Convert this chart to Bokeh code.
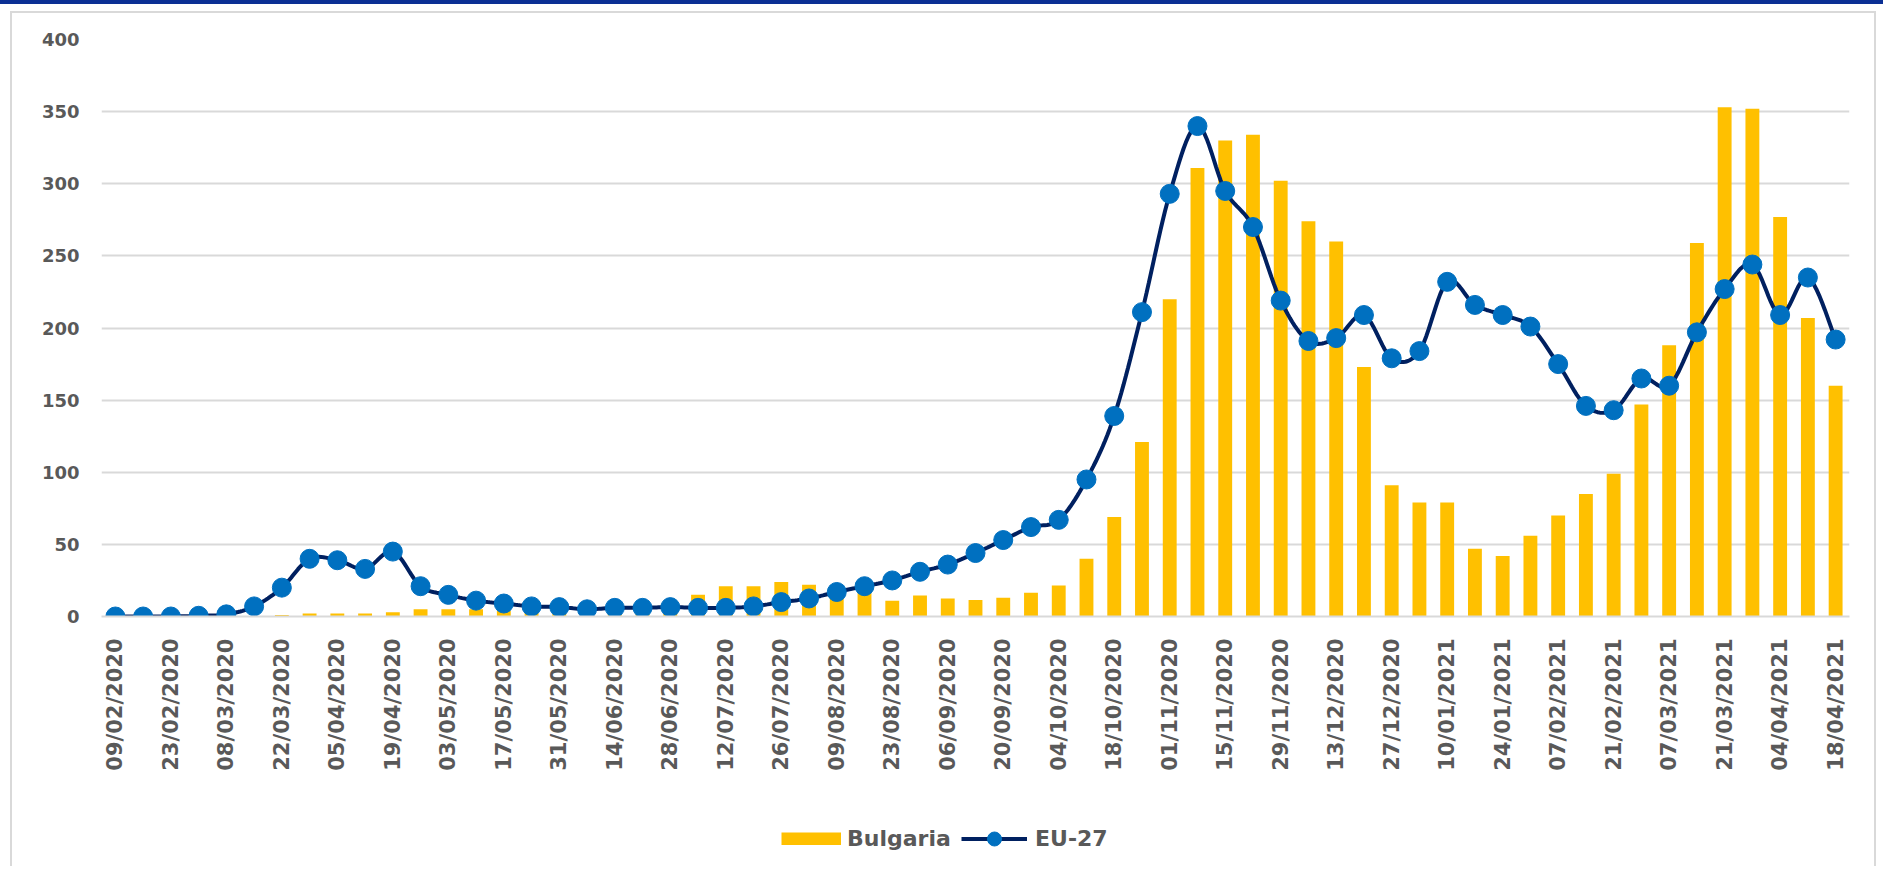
import numpy as np
from bokeh.plotting import figure
from bokeh.layouts import column
from bokeh.models import (Range1d, FixedTicker, Legend, LegendItem, Div,
                          ColumnDataSource)
from bokeh.embed import file_html
from bokeh.resources import INLINE

# ---------------- data ----------------
dates = ["09/02/2020", "16/02/2020", "23/02/2020", "01/03/2020", "08/03/2020", "15/03/2020",
         "22/03/2020", "29/03/2020", "05/04/2020", "12/04/2020", "19/04/2020", "26/04/2020",
         "03/05/2020", "10/05/2020", "17/05/2020", "24/05/2020", "31/05/2020", "07/06/2020",
         "14/06/2020", "21/06/2020", "28/06/2020", "05/07/2020", "12/07/2020", "19/07/2020",
         "26/07/2020", "02/08/2020", "09/08/2020", "16/08/2020", "23/08/2020", "30/08/2020",
         "06/09/2020", "13/09/2020", "20/09/2020", "27/09/2020", "04/10/2020", "11/10/2020",
         "18/10/2020", "25/10/2020", "01/11/2020", "08/11/2020", "15/11/2020", "22/11/2020",
         "29/11/2020", "06/12/2020", "13/12/2020", "20/12/2020", "27/12/2020", "03/01/2021",
         "10/01/2021", "17/01/2021", "24/01/2021", "31/01/2021", "07/02/2021", "14/02/2021",
         "21/02/2021", "28/02/2021", "07/03/2021", "14/03/2021", "21/03/2021", "28/03/2021",
         "04/04/2021", "11/04/2021", "18/04/2021"]

bulgaria = [0, 0, 0, 0, 0, 0,
            1, 2, 2, 2, 3, 5,
            5, 5, 4, 3, 2, 2,
            3, 4, 6, 15, 21, 21,
            24, 22, 18, 17, 11, 14.5,
            12.5, 11.5, 13, 16.5, 21.5, 40,
            69, 121, 220, 311, 330, 334,
            302, 274, 260, 173, 91, 79,
            79, 47, 42, 56, 70, 85,
            99, 147, 188, 259, 353, 352,
            277, 207, 160]

eu27 = [0, 0, 0, 0.5, 1.5, 7,
        20, 40, 39, 33, 45, 21,
        15, 11, 9, 7, 6.5, 5,
        6, 6, 6.5, 6, 6, 7,
        10, 12.5, 17, 21, 25, 31,
        36, 44, 53, 62, 67, 95,
        139, 211, 293, 340, 295, 270,
        219, 191, 193, 209, 179, 184,
        232, 216, 209, 201, 175, 146,
        143, 165, 160, 197, 227, 244,
        209, 235, 192]

y_ticks = [0, 50, 100, 150, 200, 250, 300, 350, 400]
series_names = ["Bulgaria", "EU-27"]

# ---------------- styling ----------------
TXT = "#595959"
GRID = "#D9D9D9"
BAR = "#FFC000"
LINE = "#002060"
MARK = "#0070C0"
FONT = "DejaVu Sans"

W, H = 1862, 803
LEFT, RIGHT, TOP, BOTTOM = 89, 25, 26, 200

p = figure(width=W, height=H, output_backend="svg", toolbar_location=None,
           x_range=Range1d(-0.5, len(dates) - 0.5), y_range=Range1d(0, 400),
           min_border_left=LEFT, min_border_right=RIGHT,
           min_border_top=TOP, min_border_bottom=BOTTOM, margin=0)
p.outline_line_color = None
p.background_fill_color = "white"
p.border_fill_color = "white"

x = np.arange(len(dates))
src = ColumnDataSource(dict(x=x, bg=bulgaria, eu=eu27, d=dates))

p.vbar(x="x", top="bg", width=0.5, bottom=0, source=src,
       fill_color=BAR, line_color=None)

# smoothed line (Bezier smoothing through the data points, like Excel's)
xs, ys = [], []
px = x.astype(float)
py = np.array(eu27, dtype=float)
n = len(px)
for i in range(n - 1):
    p0 = (px[max(i - 1, 0)], py[max(i - 1, 0)])
    p1 = (px[i], py[i])
    p2 = (px[i + 1], py[i + 1])
    p3 = (px[min(i + 2, n - 1)], py[min(i + 2, n - 1)])
    c1 = (p1[0] + (p2[0] - p0[0]) / 6, p1[1] + (p2[1] - p0[1]) / 6)
    c2 = (p2[0] - (p3[0] - p1[0]) / 6, p2[1] - (p3[1] - p1[1]) / 6)
    for t in np.linspace(0, 1, 12, endpoint=(i == n - 2)):
        a = (1 - t) ** 3
        b = 3 * (1 - t) ** 2 * t
        c = 3 * (1 - t) * t ** 2
        d = t ** 3
        xs.append(a * p1[0] + b * c1[0] + c * c2[0] + d * p2[0])
        ys.append(a * p1[1] + b * c1[1] + c * c2[1] + d * p2[1])

p.line(xs, ys, line_color=LINE, line_width=4)
p.scatter(x="x", y="eu", source=src, size=19, fill_color=MARK,
          line_color=MARK, marker="circle")

# axes
p.yaxis.ticker = FixedTicker(ticks=y_ticks)
p.yaxis.axis_line_color = None
p.yaxis.major_tick_line_color = None
p.yaxis.minor_tick_line_color = None
p.yaxis.major_label_text_font = FONT
p.yaxis.major_label_text_font_style = "bold"
p.yaxis.major_label_text_font_size = "18px"
p.yaxis.major_label_text_color = TXT
p.yaxis.major_label_standoff = 16

p.xaxis.ticker = FixedTicker(ticks=list(range(0, len(dates), 2)))
p.xaxis.major_label_overrides = {i: dates[i] for i in range(0, len(dates), 2)}
p.xaxis.major_label_orientation = np.pi / 2
p.xaxis.axis_line_color = GRID
p.xaxis.axis_line_width = 2
p.xaxis.major_tick_line_color = None
p.xaxis.minor_tick_line_color = None
p.xaxis.major_label_text_font = FONT
p.xaxis.major_label_text_font_style = "bold"
p.xaxis.major_label_text_font_size = "21px"
p.xaxis.major_label_text_color = TXT
p.xaxis.major_label_standoff = 16

p.xgrid.grid_line_color = None
p.ygrid.grid_line_color = GRID
p.ygrid.grid_line_width = 2

# ---------------- legend strip ----------------
# The series are referenced here outside the visible y range, only so that
# each legend entry can get its own swatch size.
lf = figure(width=W, height=50, output_backend="svg", toolbar_location=None,
            x_axis_type=None, y_axis_type=None,
            x_range=Range1d(-0.5, len(dates) - 0.5),
            y_range=Range1d(-1002, -1001), min_border=0, margin=0)
lf.outline_line_color = None
lf.grid.grid_line_color = None
r_bar = lf.line(x="x", y="bg", source=src, line_color=BAR, line_width=13)
r_line = lf.line(x="x", y="eu", source=src, line_color=LINE, line_width=4)
r_dot = lf.scatter(x="x", y="eu", source=src, size=19, fill_color=MARK,
                   line_color=MARK, marker="circle")

common = dict(orientation="horizontal", label_text_font=FONT,
              label_text_font_style="bold", label_text_font_size="22px",
              label_text_color=TXT, border_line_color=None,
              background_fill_alpha=0, margin=0, padding=0)
leg1 = Legend(items=[LegendItem(label=series_names[0], renderers=[r_bar])],
              location=(680, 15), glyph_width=60, glyph_height=13,
              label_standoff=6, **common)
leg2 = Legend(items=[LegendItem(label=series_names[1], renderers=[r_line, r_dot])],
              location=(860, 10), glyph_width=66, glyph_height=35,
              label_standoff=8, **common)
lf.add_layout(leg1)
lf.add_layout(leg2)

inner = column(p, lf, spacing=0, margin=(7, 0, 0, 10),
               styles={"border-top": "2px solid #D9D9D9",
                       "border-left": "2px solid #D9D9D9",
                       "border-right": "2px solid #D9D9D9"})
band = Div(width=1883, height=4, margin=0,
           styles={"background-color": "#0b2f94"})
layout = column(band, inner, spacing=0, margin=0)

open("out.html", "w").write(file_html(layout, INLINE))
